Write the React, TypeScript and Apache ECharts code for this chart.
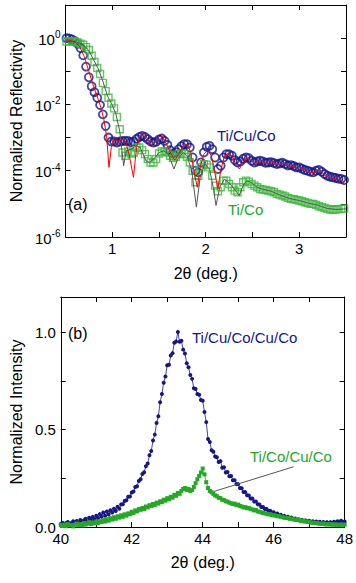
import React, { useEffect, useRef } from 'react';
import * as echarts from 'echarts';

const FONT = '"Liberation Sans", Arial, Helvetica, sans-serif';
const NAVY = '#16168a';
const GREEN = '#22aa22';

// ---------- Panel (a): X-ray reflectivity (values stored as log10 of reflectivity) ----------
const reflScanStart = 0.51;
const reflScanStep = 0.03;
const tiCuCoLogR = [
  0.0, -0.01, -0.04, -0.09, -0.17, -0.3, -0.52, -0.86, -1.18, -1.45,
  -1.63, -1.8, -2.02, -2.3, -2.65, -3.0, -3.12, -3.12, -3.15, -3.12,
  -3.1, -3.1, -3.1, -3.14, -3.12, -3.04, -2.98, -2.95, -2.98, -3.05,
  -3.12, -3.15, -3.13, -3.06, -3.03, -3.1, -3.22, -3.38, -3.48, -3.44,
  -3.35, -3.26, -3.2, -3.2, -3.3, -3.6, -4.0, -4.05, -3.75, -3.45,
  -3.28, -3.25, -3.35, -3.6, -3.95, -3.85, -3.6, -3.5, -3.5, -3.55,
  -3.68, -3.75, -3.72, -3.64, -3.6, -3.62, -3.7, -3.75, -3.72, -3.7,
  -3.72, -3.76, -3.75, -3.74, -3.77, -3.8, -3.78, -3.76, -3.8, -3.84,
  -3.83, -3.86, -3.9, -3.9, -3.94, -3.98, -4.0, -4.03, -4.05, -4.0,
  -3.98, -4.03, -4.1, -4.15, -4.18, -4.2, -4.22, -4.24, -4.25, -4.28,
];
const tiCoLogR = [
  -0.1, -0.1, -0.09, -0.1, -0.13, -0.17, -0.2, -0.27, -0.36, -0.53,
  -0.72, -0.9, -1.08, -1.35, -1.6, -1.8, -1.97, -2.12, -2.38, -2.75,
  -3.45, -3.55, -3.42, -3.48, -3.45, -3.3, -3.3, -3.38, -3.5, -3.65,
  -3.75, -3.75, -3.65, -3.48, -3.42, -3.42, -3.45, -3.55, -3.62, -3.58,
  -3.5, -3.48, -3.5, -3.58, -3.75, -4.0, -4.35, -4.15, -3.9, -3.8,
  -3.82, -3.9, -4.15, -4.45, -4.62, -4.5, -4.3, -4.3, -4.4, -4.5,
  -4.6, -4.65, -4.5, -4.35, -4.3, -4.33, -4.4, -4.45, -4.5, -4.55,
  -4.57, -4.58, -4.6, -4.62, -4.65, -4.7, -4.72, -4.75, -4.78, -4.82,
  -4.85, -4.86, -4.88, -4.9, -4.92, -4.95, -4.97, -5.0, -5.0, -5.03,
  -5.07, -5.1, -5.12, -5.15, -5.17, -5.18, -5.17, -5.16, -5.15, -5.14,
];
// fits
const tiCuCoFitX = [
  0.5, 0.55, 0.6, 0.65, 0.7, 0.75, 0.8, 0.85, 0.88, 0.91, 0.94, 0.965, 0.99, 1.02, 1.06, 1.1,
  1.14, 1.18, 1.227, 1.26, 1.3, 1.33, 1.37, 1.41, 1.45, 1.5, 1.54, 1.58, 1.64, 1.67, 1.71, 1.76,
  1.8, 1.84, 1.88, 1.91, 1.94, 1.98, 2.02, 2.06, 2.1, 2.13, 2.16, 2.2, 2.24, 2.28, 2.32, 2.36,
  2.4, 2.44, 2.48, 2.52, 2.56, 2.6, 2.64, 2.68, 2.72, 2.76, 2.8, 2.84, 2.88, 2.92, 2.96, 3.0,
  3.04, 3.08, 3.12, 3.16, 3.2, 3.24, 3.28, 3.32, 3.36, 3.4, 3.44, 3.48,
];
const tiCuCoFitLogR = [
  -0.05, -0.07, -0.12, -0.25, -0.55, -1.0, -1.45, -1.85, -2.1, -2.45, -2.95, -3.9, -3.3, -2.98, -3.15, -3.05,
  -3.1, -3.5, -4.2, -3.3, -2.92, -2.87, -3.0, -3.22, -3.15, -2.97, -2.97, -3.2, -3.55, -3.68, -3.5, -3.25,
  -3.2, -3.45, -4.1, -4.5, -3.9, -3.5, -3.38, -3.55, -4.1, -4.55, -4.0, -3.55, -3.48, -3.55, -3.8, -3.95,
  -3.72, -3.62, -3.68, -3.78, -3.75, -3.7, -3.76, -3.78, -3.75, -3.8, -3.8, -3.78, -3.85, -3.86, -3.9, -3.9,
  -3.95, -4.0, -4.05, -4.06, -4.0, -4.05, -4.15, -4.2, -4.22, -4.25, -4.28, -4.33,
];
const tiCoFitX = [
  0.5, 0.55, 0.6, 0.65, 0.7, 0.75, 0.8, 0.85, 0.9, 0.95, 1.0, 1.04, 1.08, 1.1, 1.122, 1.15,
  1.2, 1.26, 1.3, 1.36, 1.4, 1.46, 1.5, 1.55, 1.6, 1.66, 1.7, 1.76, 1.8, 1.85, 1.9, 1.94,
  1.99, 2.04, 2.08, 2.11, 2.15, 2.2, 2.26, 2.32, 2.357, 2.4, 2.44, 2.48, 2.55, 2.6, 2.7, 2.8,
  2.9, 3.0, 3.1, 3.2, 3.3, 3.4, 3.5,
];
const tiCoFitLogR = [
  -0.1, -0.1, -0.1, -0.15, -0.22, -0.38, -0.65, -0.92, -1.3, -1.75, -2.02, -2.3, -2.8, -3.3, -3.85, -3.4,
  -3.35, -3.25, -3.3, -3.7, -3.75, -3.6, -3.45, -3.4, -3.5, -3.95, -3.65, -3.45, -3.55, -4.0, -5.1, -4.2,
  -3.8, -3.95, -4.5, -5.05, -4.5, -4.25, -4.4, -4.6, -4.75, -4.45, -4.3, -4.35, -4.5, -4.55, -4.62, -4.74,
  -4.84, -4.9, -4.98, -5.04, -5.14, -5.17, -5.15,
];

// ---------- Panel (b): XRD ----------
const xrdStart = 40;
const xrdStep = 0.05;
const tiCuCoCuCoI = [
  0.015, 0.022, 0.008, 0.020, 0.026, 0.012, 0.021, 0.030, 0.016, 0.031,
  0.020, 0.036, 0.024, 0.034, 0.042, 0.028, 0.047, 0.036, 0.052, 0.040,
  0.058, 0.046, 0.066, 0.052, 0.074, 0.058, 0.079, 0.064, 0.086, 0.074,
  0.094, 0.082, 0.104, 0.094, 0.116, 0.117, 0.133, 0.137, 0.155, 0.157,
  0.177, 0.182, 0.205, 0.209, 0.236, 0.245, 0.272, 0.281, 0.312, 0.326,
  0.368, 0.390, 0.444, 0.474, 0.534, 0.568, 0.640, 0.682, 0.740, 0.772,
  0.830, 0.832, 0.880, 0.892, 0.945, 0.952, 1.000, 0.950, 0.955, 0.910,
  0.890, 0.840, 0.820, 0.780, 0.760, 0.712, 0.708, 0.682, 0.678, 0.652,
  0.648, 0.590, 0.538, 0.452, 0.436, 0.394, 0.386, 0.362, 0.358, 0.334,
  0.338, 0.304, 0.306, 0.280, 0.282, 0.260, 0.262, 0.240, 0.240, 0.220,
  0.220, 0.200, 0.199, 0.180, 0.179, 0.163, 0.162, 0.146, 0.146, 0.131,
  0.131, 0.117, 0.115, 0.103, 0.103, 0.092, 0.093, 0.082, 0.083, 0.074,
  0.076, 0.067, 0.069, 0.059, 0.063, 0.054, 0.057, 0.049, 0.053, 0.045,
  0.049, 0.040, 0.044, 0.036, 0.040, 0.032, 0.036, 0.029, 0.034, 0.027,
  0.032, 0.025, 0.030, 0.023, 0.028, 0.021, 0.027, 0.020, 0.026, 0.019,
  0.025, 0.018, 0.025, 0.020, 0.027, 0.022, 0.030, 0.024, 0.032, 0.025,
  0.028,
];
const tiCoCuCoI = [
  0.010, 0.005, 0.012, 0.004, 0.015, 0.008, 0.010, 0.003, 0.012, 0.018,
  0.010, 0.015, 0.008, 0.020, 0.012, 0.018, 0.025, 0.015, 0.022, 0.018,
  0.028, 0.020, 0.030, 0.025, 0.035, 0.028, 0.040, 0.032, 0.045, 0.038,
  0.050, 0.042, 0.055, 0.048, 0.060, 0.052, 0.065, 0.058, 0.070, 0.065,
  0.078, 0.072, 0.085, 0.080, 0.092, 0.088, 0.098, 0.092, 0.105, 0.100,
  0.112, 0.108, 0.118, 0.112, 0.125, 0.120, 0.132, 0.128, 0.140, 0.135,
  0.148, 0.142, 0.155, 0.150, 0.165, 0.160, 0.175, 0.170, 0.185, 0.195,
  0.200, 0.190, 0.195, 0.185, 0.190, 0.205, 0.225, 0.245, 0.262, 0.280,
  0.300, 0.270, 0.230, 0.200, 0.185, 0.178, 0.170, 0.162, 0.158, 0.150,
  0.148, 0.140, 0.138, 0.132, 0.130, 0.125, 0.122, 0.118, 0.120, 0.112,
  0.115, 0.108, 0.105, 0.100, 0.102, 0.096, 0.098, 0.092, 0.090, 0.085,
  0.088, 0.080, 0.078, 0.075, 0.072, 0.070, 0.068, 0.065, 0.066, 0.060,
  0.062, 0.058, 0.055, 0.056, 0.052, 0.050, 0.048, 0.046, 0.047, 0.042,
  0.044, 0.040, 0.038, 0.036, 0.037, 0.033, 0.030, 0.032, 0.028, 0.026,
  0.027, 0.023, 0.022, 0.020, 0.021, 0.018, 0.017, 0.016, 0.018, 0.014,
  0.013, 0.015, 0.012, 0.014, 0.011, 0.013, 0.012, 0.010, 0.013, 0.011,
  0.012,
];
const leaderStart = [44.31, 0.182];
const leaderEnd = [46.56, 0.309];

export default function App() {
  const ref = useRef<HTMLDivElement>(null);
  useEffect(() => {
    document.body.style.margin = '0';
    const chart = echarts.init(ref.current!, null, { renderer: 'svg' });

    const reflX = tiCuCoLogR.map((_, i) => +(reflScanStart + reflScanStep * i).toFixed(2));
    const xrdX = tiCuCoCuCoI.map((_, i) => +(xrdStart + xrdStep * i).toFixed(2));
    const pow = (e: number) => Math.pow(10, e);

    const tick = { show: true, inside: true, length: 5, lineStyle: { color: '#000', width: 1 } };
    const line = { show: true, onZero: false, lineStyle: { color: '#000', width: 1 } };
    const lbl = { fontSize: 15, color: '#000', fontFamily: FONT };
    const nameStyle = { fontSize: 16, color: '#000', fontFamily: FONT };

    const logFmt = (v: number) => {
      const e = Math.round(Math.log10(v));
      if (e % 2 !== 0 || e > 0) return '';
      return '{b|10}{s|' + e + '}';
    };

    const option: any = {
      animation: false,
      backgroundColor: '#fff',
      grid: [
        { left: 58, top: 5, width: 288, height: 232 },
        { left: 58, top: 297, width: 288, height: 230 },
      ],
      xAxis: [
        {
          gridIndex: 0, type: 'value', min: 0.5, max: 3.5, interval: 0.5, position: 'bottom',
          axisLine: line, axisTick: tick, splitLine: { show: false },
          axisLabel: { ...lbl, margin: 4, formatter: (v: number) => (Math.abs(v - Math.round(v)) < 1e-6 ? String(Math.round(v)) : '') },
          name: '2θ (deg.)', nameLocation: 'middle', nameGap: 28, nameTextStyle: nameStyle,
        },
        {
          gridIndex: 0, type: 'value', min: 0.5, max: 3.5, interval: 0.5, position: 'top',
          axisLine: line, axisTick: tick, splitLine: { show: false }, axisLabel: { show: false },
        },
        {
          gridIndex: 1, type: 'value', min: 40, max: 48, interval: 1, position: 'bottom',
          axisLine: line, axisTick: tick, splitLine: { show: false },
          axisLabel: { ...lbl, margin: 4, formatter: (v: number) => (Math.round(v) % 2 === 0 ? String(Math.round(v)) : '') },
          name: '2θ (deg.)', nameLocation: 'middle', nameGap: 27, nameTextStyle: nameStyle,
        },
        {
          gridIndex: 1, type: 'value', min: 40, max: 48, interval: 1, position: 'top',
          axisLine: line, axisTick: tick, splitLine: { show: false }, axisLabel: { show: false },
        },
      ],
      yAxis: [
        {
          gridIndex: 0, type: 'log', logBase: 10, min: 1e-6, max: 10, interval: 1, position: 'left',
          axisLine: line, axisTick: tick, splitLine: { show: false }, minorTick: { show: false },
          axisLabel: {
            margin: 5, formatter: logFmt,
            rich: {
              b: { fontSize: 15, color: '#000', fontFamily: FONT, verticalAlign: 'bottom', lineHeight: 17 },
              s: { fontSize: 10, color: '#000', fontFamily: FONT, verticalAlign: 'top', lineHeight: 17 },
            },
          },
          name: 'Normalized Reflectivity', nameLocation: 'middle', nameRotate: 90, nameGap: 38, nameTextStyle: nameStyle,
        },
        {
          gridIndex: 0, type: 'log', logBase: 10, min: 1e-6, max: 10, interval: 1, position: 'right',
          axisLine: line, axisTick: tick, splitLine: { show: false }, axisLabel: { show: false },
        },
        {
          gridIndex: 1, type: 'value', min: 0, max: 1.18, interval: 0.25, position: 'left',
          axisLine: line, axisTick: tick, splitLine: { show: false },
          axisLabel: { ...lbl, margin: 5, formatter: (v: number) => (Math.abs(v * 2 - Math.round(v * 2)) < 1e-6 ? v.toFixed(1) : '') },
          name: 'Normalized Intensity', nameLocation: 'middle', nameRotate: 90, nameGap: 36, nameTextStyle: nameStyle,
        },
        {
          gridIndex: 1, type: 'value', min: 0, max: 1.18, interval: 0.25, position: 'right',
          axisLine: line, axisTick: tick, splitLine: { show: false }, axisLabel: { show: false },
        },
      ],
      series: [
        {
          name: 'Ti/Cu/Co', type: 'scatter', xAxisIndex: 0, yAxisIndex: 0, z: 2,
          symbol: 'circle', symbolSize: 8,
          itemStyle: { color: 'rgba(0,0,0,0)', borderColor: NAVY, borderWidth: 1.8 },
          data: reflX.map((x, i) => [x, pow(tiCuCoLogR[i])]),
        },
        {
          name: 'Ti/Co', type: 'scatter', xAxisIndex: 0, yAxisIndex: 0, z: 3,
          symbol: 'rect', symbolSize: 7,
          itemStyle: { color: 'rgba(0,0,0,0)', borderColor: '#3cb83c', borderWidth: 1.4 },
          data: reflX.map((x, i) => [x, pow(tiCoLogR[i])]),
        },
        {
          name: 'Ti/Co fit', type: 'line', xAxisIndex: 0, yAxisIndex: 0, z: 4,
          showSymbol: false, symbol: 'none', lineStyle: { color: '#555', width: 1 },
          data: tiCoFitX.map((x, i) => [x, pow(tiCoFitLogR[i])]),
        },
        {
          name: 'Ti/Cu/Co fit', type: 'line', xAxisIndex: 0, yAxisIndex: 0, z: 5,
          showSymbol: false, symbol: 'none', lineStyle: { color: '#ff0000', width: 1 },
          data: tiCuCoFitX.map((x, i) => [x, pow(tiCuCoFitLogR[i])]),
        },
        {
          name: 'Ti/Cu/Co/Cu/Co', type: 'line', xAxisIndex: 2, yAxisIndex: 2, z: 2,
          symbol: 'circle', symbolSize: 4, showSymbol: true,
          itemStyle: { color: NAVY }, lineStyle: { color: NAVY, width: 0.8 },
          data: xrdX.map((x, i) => [x, tiCuCoCuCoI[i]]),
        },
        {
          name: 'Ti/Co/Cu/Co', type: 'line', xAxisIndex: 2, yAxisIndex: 2, z: 3,
          symbol: 'rect', symbolSize: 4, showSymbol: true,
          itemStyle: { color: GREEN }, lineStyle: { color: GREEN, width: 0.8 },
          data: xrdX.map((x, i) => [x, tiCoCuCoI[i]]),
          markLine: {
            silent: true, symbol: 'none', label: { show: false },
            lineStyle: { color: '#555', width: 1, type: 'solid' },
            data: [[{ coord: leaderStart }, { coord: leaderEnd }]],
          },
        },
      ],
      graphic: [
        { type: 'text', left: 217, top: 128, style: { text: 'Ti/Cu/Co', fill: NAVY, font: `15px ${FONT}` } },
        { type: 'text', left: 228, top: 202, style: { text: 'Ti/Co', fill: GREEN, font: `15px ${FONT}` } },
        { type: 'text', left: 68, top: 196, style: { text: '(a)', fill: '#000', font: `16px ${FONT}` } },
        { type: 'text', left: 68, top: 325, style: { text: '(b)', fill: '#000', font: `16px ${FONT}` } },
        { type: 'text', left: 192, top: 330, style: { text: 'Ti/Cu/Co/Cu/Co', fill: NAVY, font: `15px ${FONT}` } },
        { type: 'text', left: 250, top: 449, style: { text: 'Ti/Co/Cu/Co', fill: GREEN, font: `15px ${FONT}` } },
      ],
    };
    chart.setOption(option);
    return () => chart.dispose();
  }, []);
  return <div ref={ref} style={{ width: 356, height: 583 }} />;
}
